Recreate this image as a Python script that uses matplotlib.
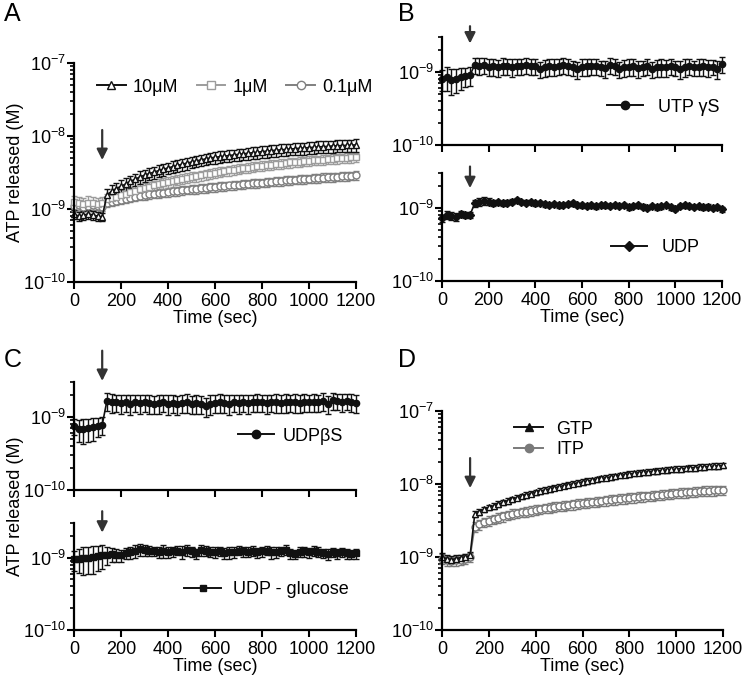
import numpy as np
import matplotlib
matplotlib.use("Agg")
import matplotlib.pyplot as plt
from matplotlib.lines import Line2D
from matplotlib.ticker import LogLocator, LogFormatterSciNotation, NullFormatter

plt.rcParams['font.family'] = ['Liberation Sans', 'DejaVu Sans']
plt.rcParams['mathtext.fontset'] = 'custom'
plt.rcParams['mathtext.rm'] = 'Liberation Sans'
plt.rcParams['mathtext.it'] = 'Liberation Sans:italic'

# time points (sec), values in nM
time = np.arange(0, 1201, 20)

a_10 = [0.85, 0.80, 0.82, 0.86, 0.83, 0.80, 0.78,
        1.55, 1.75, 1.90, 2.05, 2.20, 2.40, 2.55, 2.75, 2.90, 3.05,
        3.20, 3.35, 3.50, 3.65, 3.80, 3.95, 4.10, 4.25, 4.40, 4.55,
        4.70, 4.85, 5.00, 5.10, 5.20, 5.30, 5.40, 5.50, 5.60, 5.70,
        5.80, 5.90, 6.00, 6.10, 6.20, 6.30, 6.40, 6.45, 6.55, 6.65,
        6.70, 6.80, 6.85, 6.95, 7.00, 7.10, 7.15, 7.20, 7.30, 7.35,
        7.40, 7.45, 7.50, 7.55]
a_10_err = [0.12, 0.12, 0.11, 0.12, 0.12, 0.11, 0.10,
            0.35, 0.38, 0.40, 0.42, 0.44, 0.47, 0.50, 0.53, 0.56, 0.58,
            0.60, 0.63, 0.66, 0.68, 0.70, 0.73, 0.76, 0.78, 0.80, 0.83,
            0.86, 0.88, 0.90, 0.92, 0.94, 0.96, 0.98, 1.00, 1.02, 1.04,
            1.06, 1.08, 1.10, 1.12, 1.14, 1.16, 1.18, 1.20, 1.22, 1.24,
            1.25, 1.27, 1.28, 1.30, 1.31, 1.33, 1.34, 1.35, 1.37, 1.38,
            1.39, 1.40, 1.42, 1.43]
a_1 = [1.25, 1.20, 1.18, 1.22, 1.20, 1.16, 1.20,
       1.38, 1.42, 1.48, 1.55, 1.62, 1.70, 1.78, 1.86, 1.94, 2.02,
       2.10, 2.18, 2.26, 2.34, 2.42, 2.50, 2.58, 2.66, 2.74, 2.82,
       2.90, 2.98, 3.06, 3.14, 3.22, 3.30, 3.38, 3.46, 3.54, 3.62,
       3.70, 3.78, 3.85, 3.92, 3.99, 4.06, 4.13, 4.20, 4.27, 4.34,
       4.40, 4.46, 4.52, 4.58, 4.64, 4.70, 4.76, 4.82, 4.88, 4.94,
       5.00, 5.05, 5.10, 5.15]
a_1_err = [0.28, 0.26, 0.25, 0.27, 0.26, 0.25, 0.26,
           0.25, 0.26, 0.27, 0.28, 0.29, 0.30, 0.31, 0.32, 0.33, 0.34,
           0.35, 0.36, 0.37, 0.38, 0.39, 0.40, 0.41, 0.42, 0.43, 0.44,
           0.45, 0.46, 0.47, 0.48, 0.49, 0.50, 0.51, 0.52, 0.53, 0.54,
           0.55, 0.56, 0.57, 0.58, 0.59, 0.60, 0.61, 0.62, 0.63, 0.64,
           0.65, 0.66, 0.67, 0.68, 0.69, 0.70, 0.71, 0.72, 0.73, 0.74,
           0.75, 0.76, 0.77, 0.78]
a_01 = [1.10, 1.12, 1.08, 1.10, 1.12, 1.10, 1.08,
        1.22, 1.26, 1.30, 1.34, 1.38, 1.42, 1.46, 1.50, 1.54, 1.58,
        1.62, 1.64, 1.68, 1.70, 1.74, 1.76, 1.80, 1.82, 1.86, 1.88,
        1.92, 1.94, 1.98, 2.00, 2.04, 2.06, 2.10, 2.12, 2.16, 2.18,
        2.22, 2.24, 2.28, 2.30, 2.34, 2.36, 2.40, 2.42, 2.46, 2.48,
        2.52, 2.54, 2.58, 2.60, 2.64, 2.66, 2.70, 2.72, 2.76, 2.78,
        2.82, 2.84, 2.86, 2.88]
a_01_err = [0.15, 0.15, 0.14, 0.15, 0.15, 0.14, 0.14,
            0.16, 0.16, 0.17, 0.17, 0.18, 0.18, 0.19, 0.19, 0.20, 0.20,
            0.21, 0.21, 0.22, 0.22, 0.23, 0.23, 0.24, 0.24, 0.25, 0.25,
            0.25, 0.26, 0.26, 0.27, 0.27, 0.28, 0.28, 0.29, 0.29, 0.30,
            0.30, 0.30, 0.31, 0.31, 0.32, 0.32, 0.33, 0.33, 0.34, 0.34,
            0.34, 0.35, 0.35, 0.36, 0.36, 0.37, 0.37, 0.38, 0.38, 0.38,
            0.39, 0.39, 0.40, 0.40]

b_utp = [0.80, 0.85, 0.78, 0.80, 0.85, 0.88, 0.90,
         1.25, 1.22, 1.25, 1.18, 1.20, 1.15, 1.22, 1.20, 1.18, 1.22,
         1.20, 1.25, 1.22, 1.20, 1.10, 1.15, 1.20, 1.18, 1.20, 1.25,
         1.20, 1.15, 1.08, 1.18, 1.20, 1.22, 1.20, 1.15, 1.12, 1.25,
         1.22, 1.10, 1.15, 1.18, 1.20, 1.12, 1.15, 1.20, 1.10, 1.15,
         1.18, 1.15, 1.20, 1.15, 1.10, 1.18, 1.20, 1.15, 1.18, 1.20,
         1.15, 1.18, 1.10, 1.28]
b_utp_err = [0.25, 0.30, 0.30, 0.28, 0.28, 0.26, 0.25,
             0.30, 0.32, 0.30, 0.30, 0.32, 0.30, 0.32, 0.30, 0.32, 0.30,
             0.30, 0.32, 0.30, 0.30, 0.28, 0.30, 0.32, 0.30, 0.30, 0.32,
             0.30, 0.28, 0.28, 0.30, 0.32, 0.30, 0.30, 0.28, 0.30, 0.32,
             0.30, 0.28, 0.30, 0.30, 0.32, 0.30, 0.28, 0.30, 0.28, 0.30,
             0.32, 0.30, 0.30, 0.28, 0.30, 0.32, 0.30, 0.28, 0.30, 0.32,
             0.30, 0.28, 0.30, 0.32]
b_udp = [0.72, 0.80, 0.78, 0.75, 0.82, 0.80, 0.80,
         1.15, 1.22, 1.25, 1.22, 1.18, 1.20, 1.15, 1.18, 1.22, 1.30,
         1.22, 1.18, 1.20, 1.15, 1.18, 1.12, 1.10, 1.12, 1.08, 1.10,
         1.12, 1.15, 1.10, 1.08, 1.05, 1.08, 1.05, 1.10, 1.08, 1.06,
         1.10, 1.05, 1.10, 1.02, 1.06, 1.08, 1.04, 1.00, 1.06, 1.02,
         1.05, 1.08, 1.02, 0.96, 1.06, 1.08, 1.06, 1.04, 1.06, 1.02,
         1.04, 1.00, 1.02, 0.96]
b_udp_err = [0.08, 0.10, 0.10, 0.09, 0.08, 0.08, 0.07,
             0.12, 0.15, 0.15, 0.14, 0.12, 0.10, 0.10, 0.09, 0.10, 0.08,
             0.08, 0.09, 0.08, 0.08, 0.07, 0.08, 0.07, 0.07, 0.08, 0.07,
             0.07, 0.08, 0.07, 0.07, 0.06, 0.07, 0.07, 0.06, 0.07, 0.06,
             0.07, 0.06, 0.07, 0.08, 0.06, 0.07, 0.08, 0.07, 0.06, 0.07,
             0.07, 0.06, 0.07, 0.06, 0.07, 0.08, 0.06, 0.07, 0.06, 0.07,
             0.08, 0.07, 0.06, 0.08]

c_udpbs = [0.75, 0.68, 0.68, 0.70, 0.72, 0.75, 0.78,
           1.65, 1.58, 1.60, 1.55, 1.58, 1.52, 1.60, 1.55, 1.58, 1.55,
           1.50, 1.55, 1.58, 1.52, 1.55, 1.50, 1.55, 1.58, 1.52, 1.55,
           1.50, 1.40, 1.52, 1.55, 1.58, 1.55, 1.52, 1.58, 1.55, 1.60,
           1.55, 1.58, 1.60, 1.58, 1.55, 1.60, 1.58, 1.55, 1.58, 1.60,
           1.58, 1.55, 1.60, 1.58, 1.62, 1.60, 1.65, 1.50, 1.68, 1.65,
           1.62, 1.65, 1.60, 1.55]
c_udpbs_err = [0.18, 0.22, 0.25, 0.25, 0.25, 0.22, 0.22,
               0.45, 0.45, 0.42, 0.45, 0.42, 0.45, 0.42, 0.45, 0.42, 0.45,
               0.42, 0.45, 0.42, 0.45, 0.42, 0.45, 0.42, 0.45, 0.42, 0.45,
               0.42, 0.40, 0.45, 0.42, 0.45, 0.42, 0.45, 0.42, 0.45, 0.42,
               0.45, 0.42, 0.45, 0.42, 0.45, 0.42, 0.45, 0.42, 0.45, 0.42,
               0.45, 0.42, 0.45, 0.42, 0.45, 0.42, 0.45, 0.42, 0.45, 0.42,
               0.45, 0.42, 0.45, 0.42]
c_glu = [0.95, 0.96, 0.98, 1.00, 1.02, 1.05, 1.10,
         1.10, 1.12, 1.10, 1.08, 1.15, 1.18, 1.25, 1.30, 1.28, 1.25,
         1.22, 1.18, 1.25, 1.20, 1.22, 1.25, 1.20, 1.28, 1.22, 1.15,
         1.28, 1.25, 1.20, 1.18, 1.22, 1.15, 1.18, 1.20, 1.25, 1.22,
         1.20, 1.25, 1.18, 1.22, 1.25, 1.18, 1.20, 1.22, 1.28, 1.15,
         1.12, 1.20, 1.22, 1.18, 1.25, 1.20, 1.15, 1.12, 1.18, 1.15,
         1.18, 1.15, 1.12, 1.15]
c_glu_err = [0.30, 0.35, 0.40, 0.40, 0.42, 0.40, 0.40,
             0.30, 0.25, 0.22, 0.20, 0.20, 0.22, 0.25, 0.25, 0.22, 0.20,
             0.18, 0.20, 0.25, 0.22, 0.20, 0.18, 0.25, 0.22, 0.20, 0.18,
             0.22, 0.20, 0.18, 0.20, 0.18, 0.20, 0.22, 0.20, 0.18, 0.20,
             0.18, 0.20, 0.18, 0.20, 0.18, 0.22, 0.20, 0.18, 0.20, 0.18,
             0.15, 0.18, 0.20, 0.18, 0.20, 0.18, 0.16, 0.18, 0.16, 0.18,
             0.16, 0.18, 0.16, 0.18]

d_gtp = [1.00, 0.95, 0.92, 0.95, 0.98, 1.00, 1.05,
         3.9, 4.2, 4.5, 4.8, 5.0, 5.3, 5.6, 5.9, 6.2, 6.5,
         6.8, 7.1, 7.4, 7.7, 8.0, 8.3, 8.6, 8.9, 9.2, 9.5,
         9.8, 10.1, 10.4, 10.7, 11.0, 11.3, 11.6, 11.9, 12.2, 12.5,
         12.8, 13.1, 13.4, 13.7, 14.0, 14.3, 14.5, 14.7, 15.0, 15.2,
         15.4, 15.6, 15.8, 16.0, 16.2, 16.4, 16.6, 16.8, 17.0, 17.2,
         17.4, 17.6, 17.8, 18.0]
d_gtp_err = [0.12, 0.10, 0.10, 0.10, 0.10, 0.10, 0.12,
             0.35, 0.38, 0.40, 0.42, 0.44, 0.46, 0.48, 0.50, 0.52, 0.55,
             0.58, 0.60, 0.62, 0.65, 0.68, 0.70, 0.72, 0.75, 0.78, 0.80,
             0.82, 0.85, 0.88, 0.90, 0.92, 0.95, 0.98, 1.00, 1.02, 1.05,
             1.08, 1.10, 1.12, 1.15, 1.18, 1.20, 1.22, 1.25, 1.28, 1.30,
             1.32, 1.35, 1.38, 1.40, 1.42, 1.45, 1.48, 1.50, 1.52, 1.55,
             1.58, 1.60, 1.62, 1.65]
d_itp = [0.95, 0.90, 0.88, 0.90, 0.92, 0.95, 1.00,
         2.6, 2.8, 3.0, 3.15, 3.3, 3.45, 3.6, 3.75, 3.9, 4.0,
         4.1, 4.2, 4.3, 4.45, 4.55, 4.65, 4.75, 4.85, 4.95, 5.05,
         5.15, 5.25, 5.35, 5.45, 5.55, 5.65, 5.75, 5.85, 5.95, 6.05,
         6.15, 6.25, 6.35, 6.45, 6.55, 6.65, 6.75, 6.85, 6.95, 7.05,
         7.15, 7.25, 7.35, 7.45, 7.55, 7.65, 7.75, 7.85, 7.95, 8.05,
         8.10, 8.15, 8.20, 8.25]
d_itp_err = [0.15, 0.14, 0.13, 0.14, 0.14, 0.14, 0.15,
             0.40, 0.42, 0.45, 0.47, 0.50, 0.52, 0.54, 0.56, 0.58, 0.60,
             0.62, 0.63, 0.65, 0.67, 0.68, 0.70, 0.71, 0.73, 0.74, 0.76,
             0.77, 0.79, 0.80, 0.82, 0.83, 0.85, 0.86, 0.88, 0.89, 0.91,
             0.92, 0.94, 0.95, 0.97, 0.98, 1.00, 1.01, 1.03, 1.04, 1.06,
             1.07, 1.09, 1.10, 1.12, 1.13, 1.15, 1.16, 1.18, 1.19, 1.21,
             1.22, 1.23, 1.24, 1.25]

nM = 1e-9
FS = 13
W, H = 742, 684
fig = plt.figure(figsize=(W / 100, H / 100), dpi=100)


def px_axes(x0, x1, ytop, ybot):
    return fig.add_axes([x0 / W, 1 - ybot / H, (x1 - x0) / W, (ybot - ytop) / H])


def style(ax, top, xlabels=True):
    ax.set_yscale('log')
    ax.set_xlim(0, 1200)
    ax.set_ylim(1e-10, top)
    for s in ['top', 'right']:
        ax.spines[s].set_visible(False)
    for s in ['left', 'bottom']:
        ax.spines[s].set_linewidth(1.6)
    ax.set_xticks([0, 200, 400, 600, 800, 1000, 1200])
    ax.yaxis.set_major_locator(LogLocator(base=10, numticks=10))
    ax.yaxis.set_major_formatter(LogFormatterSciNotation())
    ax.yaxis.set_minor_locator(LogLocator(base=10, subs=np.arange(2, 10), numticks=20))
    ax.yaxis.set_minor_formatter(NullFormatter())
    ax.tick_params(which='major', length=5, width=1.5, labelsize=FS, direction='out')
    ax.tick_params(which='minor', length=3, width=1.2, direction='out')
    ax.tick_params(axis='y', pad=1)
    ax.tick_params(axis='x', pad=3)
    if xlabels:
        ax.set_xlabel('Time (sec)', fontsize=FS, labelpad=0)
    else:
        ax.set_xticklabels([])


def series(ax, y, err, color, marker, mfc, ms=5):
    ax.errorbar(time, np.array(y) * nM, yerr=np.array(err) * nM, color=color,
                marker=marker, mfc=mfc, mec=color, ms=ms, mew=1.0, lw=1.2,
                elinewidth=1.0, capsize=2.4, capthick=1.0, clip_on=False)


def arrow(ax, tail, tip):
    ax.annotate('', xy=(120, tip), xytext=(120, tail),
                xycoords=('data', 'axes fraction'), textcoords=('data', 'axes fraction'),
                arrowprops=dict(arrowstyle='-|>', color='#333333', lw=1.6,
                                mutation_scale=16, shrinkA=0, shrinkB=0),
                annotation_clip=False)


def handle(color, marker, mfc, ms=6):
    return Line2D([], [], color=color, marker=marker, mfc=mfc, mec=color, ms=ms, lw=1.4)


def side_legend(ax, h, label, x, y, pad=0.8):
    ax.legend([h], [label], loc='center right', bbox_to_anchor=(x, y), frameon=False,
              fontsize=FS, handlelength=2.0, handletextpad=pad, borderpad=0, borderaxespad=0)


# panel A
axA = px_axes(74, 356, 63, 282)
style(axA, 1e-7)
series(axA, a_01, a_01_err, '#808080', 'o', 'white')
series(axA, a_1, a_1_err, '#9c9c9c', 's', 'white')
series(axA, a_10, a_10_err, '#111111', '^', 'white')
arrow(axA, 0.694, 0.557)
axA.legend([handle('#111111', '^', 'white'), handle('#9c9c9c', 's', 'white'),
            handle('#808080', 'o', 'white')],
           ['10μM', '1μM', '0.1μM'], ncol=3, loc='center', bbox_to_anchor=(0.57, 0.89),
           frameon=False, fontsize=FS, handlelength=1.6, handletextpad=0.4, columnspacing=1.0)

# panel B
axB1 = px_axes(442, 722, 37, 145)
style(axB1, 3e-9, xlabels=False)
series(axB1, b_utp, b_utp_err, '#111111', 'o', '#111111', ms=4.5)
arrow(axB1, 1.10, 0.94)
side_legend(axB1, handle('#111111', 'o', '#111111'), 'UTP γS', 0.99, 0.35)

axB2 = px_axes(442, 722, 173, 281)
style(axB2, 3e-9)
series(axB2, b_udp, b_udp_err, '#111111', 'D', '#111111', ms=4)
arrow(axB2, 1.06, 0.86)
side_legend(axB2, handle('#111111', 'D', '#111111', ms=5), 'UDP', 0.92, 0.31)

# panel C
axC1 = px_axes(74, 356, 382, 490)
style(axC1, 3e-9, xlabels=False)
series(axC1, c_udpbs, c_udpbs_err, '#111111', 'o', '#111111', ms=4.5)
arrow(axC1, 1.29, 1.01)
side_legend(axC1, handle('#111111', 'o', '#111111'), 'UDPβS', 0.955, 0.5, pad=0.5)

axC2 = px_axes(74, 356, 523, 630)
style(axC2, 3e-9)
series(axC2, c_glu, c_glu_err, '#111111', 's', '#111111', ms=4)
arrow(axC2, 1.11, 0.91)
side_legend(axC2, handle('#111111', 's', '#111111', ms=5), 'UDP - glucose', 0.975, 0.38, pad=0.7)

# panel D
axD = px_axes(442, 723, 411, 630)
style(axD, 1e-7)
series(axD, d_itp, d_itp_err, '#7a7a7a', 'o', 'white')
series(axD, d_gtp, d_gtp_err, '#111111', '^', 'white')
arrow(axD, 0.785, 0.648)
axD.legend([handle('#111111', '^', '#111111'), handle('#7a7a7a', 'o', '#7a7a7a')],
           ['GTP', 'ITP'], loc='upper left', bbox_to_anchor=(0.2, 1.03), frameon=False,
           fontsize=FS, handlelength=1.6, handletextpad=0.7, labelspacing=0.2)

# labels
fig.text(16 / W, 1 - 172 / H, 'ATP released (M)', rotation=90, ha='center', va='center', fontsize=FS)
fig.text(16 / W, 1 - 506 / H, 'ATP released (M)', rotation=90, ha='center', va='center', fontsize=FS)
for lab, x, y in [('A', 4, 2), ('B', 398, 2), ('C', 4, 348), ('D', 398, 348)]:
    fig.text(x / W, 1 - y / H, lab, ha='left', va='top', fontsize=18)

fig.savefig('out.png', dpi=100)
